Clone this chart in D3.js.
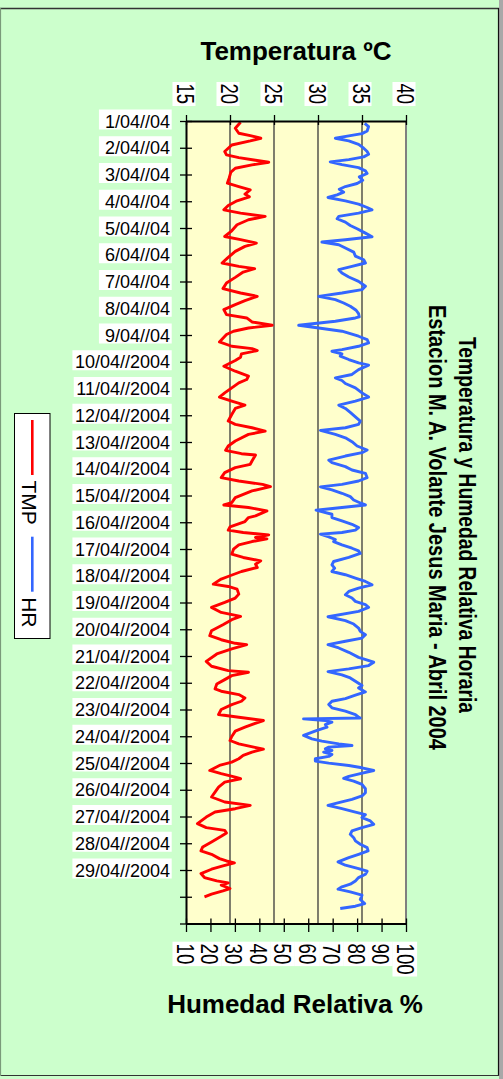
<!DOCTYPE html>
<html><head><meta charset="utf-8">
<script src="https://cdn.jsdelivr.net/npm/d3@7"></script>
<style>html,body{margin:0;padding:0;background:#CCFFCC;} svg{display:block;font-family:"Liberation Sans",Arial,sans-serif;}</style>
</head><body><svg id="c" width="503" height="1079"></svg>
<script>
const dateLabels = ["1/04//04","2/04//04","3/04//04","4/04//04","5/04//04","6/04//04","7/04//04","8/04//04","9/04//04",
  "10/04//2004","11/04//2004","12/04//2004","13/04//2004","14/04//2004","15/04//2004","16/04//2004","17/04//2004",
  "18/04//2004","19/04//2004","20/04//2004","21/04//2004","22/04//2004","23/04//2004","24/04//2004","25/04//2004",
  "26/04//2004","27/04//2004","28/04//2004","29/04//2004","",""];
const tempTicks = [15,20,25,30,35,40];
const hrTicks = [10,20,30,40,50,60,70,80,90,100];
const seriesNames = ["TMP","HR"];
const titleLines = ["Temperatura y Humedad Relativa Horaria","Estacion M. A. Volante Jesus Maria - Abril 2004"];

// [hours since 1/04 00:00, temperature ºC]
const tmpPoints = [
[1.2,21.2],[6.5,20.6],[11.0,21.0],[13.1,22.3],[15.5,23.5],[17.9,22.3],[21.5,20.2],
[27.4,19.4],[30.4,19.6],[32.8,21.0],[35.2,22.9],[37.0,24.4],[39.4,22.5],[42.4,20.6],[45.9,20.1],
[51.3,19.9],[55.8,19.7],[58.8,21.0],[61.8,22.3],[65.6,21.7],[68.0,22.2],[71.6,20.8],
[75.8,19.8],[79.7,19.3],[82.7,21.2],[85.6,24.0],[88.6,22.1],[93.1,20.8],
[98.5,20.2],[103.6,19.4],[106.5,21.2],[109.5,23.0],[112.5,21.7],[117.0,20.6],
[123.0,19.7],[127.4,19.1],[130.4,21.0],[132.5,22.8],[135.5,21.5],[140.3,20.6],
[145.3,19.6],[150.4,19.2],[154.3,21.2],[157.3,23.1],[161.2,21.7],[164.7,20.6],
[169.2,19.3],[173.7,19.6],[176.7,21.9],[180.3,22.5],[183.3,24.8],[185.7,22.1],[188.6,20.4],
[191.6,19.6],[198.2,18.8],[202.1,20.2],[204.2,22.5],[206.0,23.1],[209.0,21.3],[211.9,21.2],
[214.9,20.6],[220.0,19.3],[224.5,20.6],[228.9,22.1],[231.9,21.9],[234.9,21.0],[239.4,20.2],
[243.9,19.4],[247.7,18.8],[251.3,20.2],[254.9,21.7],[257.9,20.6],[263.3,20.2],[269.2,19.8],
[272.2,20.6],[275.2,22.5],[278.2,24.0],[281.2,22.1],[287.1,20.6],[291.6,19.8],[295.5,19.5],
[298.5,21.3],[299.7,22.9],[305.1,22.5],[308.0,22.3],[311.0,20.6],[315.5,19.4],[320.0,19.0],
[323.0,21.0],[326.0,23.7],[328.0,24.6],[331.9,22.5],[337.9,20.6],[342.4,20.2],[344.5,19.3],
[346.8,22.1],[349.8,24.2],[354.3,22.9],[355.8,22.1],[359.4,21.7],[364.2,20.0],[367.1,19.8],
[369.2,21.5],[371.3,24.4],[373.7,22.9],[374.9,24.2],[377.3,22.5],[380.3,21.0],[384.2,20.4],
[388.6,20.2],[391.6,21.5],[394.6,23.5],[397.6,22.9],[400.6,23.1],[404.2,21.3],[408.0,20.0],
[411.0,19.0],[415.5,18.1],[417.6,19.8],[420.0,20.8],[424.5,21.0],[428.0,20.6],[431.9,19.4],
[436.4,17.9],[440.9,19.0],[444.5,21.2],[447.4,20.2],[451.9,19.2],[457.3,17.9],[461.8,17.7],
[465.4,19.0],[468.6,20.6],[469.8,21.9],[473.7,20.2],[478.2,18.5],[484.8,17.3],[489.2,17.9],
[493.1,19.8],[494.6,22.1],[497.6,20.2],[501.2,19.4],[505.1,18.5],[509.5,18.3],[511.6,19.0],
[514.6,21.0],[517.6,21.7],[520.6,21.3],[523.6,20.2],[528.0,19.0],[532.5,18.7],[534.9,21.0],
[537.9,23.8],[540.9,22.7],[543.9,21.7],[547.4,20.6],[552.2,20.2],[555.8,20.0],[558.8,21.0],
[561.8,22.7],[563.6,23.8],[566.2,22.5],[569.2,21.5],[572.2,21.0],[575.2,20.2],[578.2,18.8],
[582.7,17.7],[585.6,19.0],[588.6,20.6],[590.1,21.2],[593.1,19.4],[597.6,18.7],[602.1,18.3],
[606.5,17.9],[611.0,19.4],[614.0,22.3],[617.0,20.6],[620.0,18.3],[624.5,17.3],[630.4,16.3],
[634.0,17.3],[636.4,19.4],[638.8,19.6],[641.8,19.0],[646.8,17.9],[651.3,16.9],[654.9,16.7],
[657.9,17.9],[661.8,18.8],[663.9,19.6],[665.6,20.5],[668.3,19.2],[671.3,17.9],[675.2,16.7],
[678.8,17.1],[681.8,18.5],[683.6,19.8],[685.6,19.0],[688.6,20.0],[690.7,19.2],[693.7,17.9],
[696.1,17.1]
];

// [hours since 1/04 00:00, relative humidity %]
const hrPoints = [
[2.1,83.1],[5.0,84.7],[8.9,84.1],[11.3,82.0],[13.4,76.6],[15.5,71.1],[17.9,76.6],[20.9,80.6],
[24.4,82.7],[27.4,84.1],[29.8,84.7],[32.2,82.7],[34.6,76.6],[36.7,69.0],[39.1,73.8],[41.8,80.6],
[44.7,83.4],[47.1,84.1],[50.1,80.9],[53.1,82.3],[56.1,80.0],[58.8,75.2],[61.2,72.7],[63.8,74.5],
[66.2,71.8],[68.6,68.1],[71.6,75.2],[74.6,80.6],[77.6,84.1],[79.7,86.1],[82.7,80.6],[85.6,72.5],
[87.7,71.8],[90.7,75.2],[93.7,77.2],[96.7,80.0],[100.6,83.4],[103.9,86.1],[106.5,75.2],[108.6,65.6],
[111.0,72.5],[114.0,75.2],[117.6,78.6],[121.2,79.3],[124.5,82.7],[127.4,83.4],[130.4,77.9],[133.4,72.5],
[136.4,73.8],[140.0,76.6],[143.9,80.6],[148.3,83.4],[151.3,82.0],[154.3,73.8],[157.3,64.3],[160.3,71.1],
[163.3,74.5],[166.2,77.2],[169.8,79.6],[172.8,80.6],[175.8,80.9],[176.7,79.3],[179.7,71.1],[183.3,56.1],
[185.7,64.3],[188.6,73.8],[193.1,80.6],[196.1,84.1],[199.1,84.7],[202.1,80.6],[205.1,73.8],[206.6,69.7],
[209.0,73.8],[211.0,73.1],[214.0,76.6],[217.0,80.6],[219.1,84.7],[223.0,80.6],[227.4,77.9],[230.4,71.1],
[232.8,73.8],[235.5,75.2],[239.4,79.3],[243.9,82.0],[247.7,84.7],[251.3,79.3],[254.9,72.5],[257.9,75.2],
[261.5,77.2],[265.4,79.3],[269.2,81.3],[272.2,80.6],[275.2,75.2],[277.6,65.0],[281.2,71.1],[284.2,75.2],
[287.7,77.9],[291.6,80.0],[295.2,84.1],[297.6,82.0],[300.6,75.2],[304.2,68.4],[306.5,69.7],[310.1,75.2],
[313.1,77.9],[316.1,83.4],[320.0,84.1],[323.0,80.6],[326.0,73.8],[328.3,65.0],[331.0,69.7],[334.0,73.8],
[337.0,77.2],[340.0,78.6],[342.7,81.3],[344.5,83.4],[346.8,73.8],[349.2,63.2],[352.8,69.7],[355.8,69.7],
[358.8,73.8],[361.8,77.9],[364.8,80.6],[367.1,79.3],[369.2,73.8],[370.7,65.0],[373.1,68.4],[375.5,71.1],
[377.3,70.4],[380.3,73.8],[383.3,77.9],[385.7,80.6],[388.0,81.3],[391.6,76.6],[395.2,70.4],[398.2,69.7],
[401.2,70.8],[404.2,69.7],[407.1,75.2],[410.1,79.3],[413.1,83.4],[416.1,86.1],[419.1,80.6],[422.1,76.6],
[425.1,75.2],[428.0,77.9],[431.0,79.3],[434.0,83.4],[436.4,84.7],[440.0,80.6],[444.8,68.1],[448.3,75.2],
[451.3,78.6],[454.9,80.6],[457.9,81.3],[460.9,83.4],[463.9,82.0],[466.8,75.2],[469.8,68.1],[472.8,72.5],
[476.7,76.6],[481.2,80.6],[485.6,86.8],[488.6,84.7],[491.6,76.6],[494.0,68.1],[497.0,73.8],[499.7,77.2],
[502.7,79.3],[506.5,82.0],[508.6,80.6],[512.2,83.4],[515.2,79.3],[518.2,75.2],[520.6,69.7],[523.6,68.4],
[526.5,69.7],[529.5,75.2],[532.5,79.3],[534.9,80.6],[535.6,81.3],[536.4,58.1],[537.9,67.0],[539.4,69.7],
[541.5,67.0],[543.9,67.7],[546.8,63.6],[551.3,58.1],[554.3,61.5],[556.4,65.6],[558.8,72.5],[560.3,77.9],
[561.8,68.4],[563.3,67.0],[564.8,69.7],[566.2,66.3],[568.3,69.7],[570.1,68.4],[572.2,62.9],[574.3,62.9],
[576.1,68.4],[578.2,76.6],[580.3,82.0],[582.7,86.8],[585.6,81.3],[588.0,76.6],[589.8,74.5],[592.2,78.6],
[595.2,82.0],[599.1,83.4],[602.7,83.4],[605.6,82.0],[608.6,77.9],[611.6,72.5],[614.0,68.1],[617.0,73.8],
[620.0,79.3],[622.4,83.4],[625.0,82.0],[628.0,85.4],[631.0,86.8],[634.0,82.0],[637.0,77.9],[640.0,77.2],
[643.0,78.6],[645.9,79.3],[648.9,81.3],[651.9,84.1],[654.9,84.5],[657.9,80.6],[660.9,76.6],[664.7,72.2],
[667.7,75.2],[670.7,80.6],[673.1,84.1],[675.8,83.4],[678.8,80.6],[681.8,79.3],[684.7,77.2],[687.1,73.8],
[689.2,72.2],[691.6,77.2],[694.6,82.0],[698.5,81.3],[702.1,83.1],[704.5,79.3],[706.5,73.1]
];

const W = 503, H = 1079;
const svg = d3.select("#c");
svg.append("rect").attr("width", W).attr("height", H).attr("fill", "#CCFFCC");
svg.append("rect").attr("x", 499).attr("y", 0).attr("width", 4).attr("height", H).attr("fill", "#A8A8A8");
// chart border
svg.append("line").attr("x1", 0).attr("x2", 499).attr("y1", 8.5).attr("y2", 8.5).attr("stroke", "#333").attr("stroke-width", 1.6);
svg.append("line").attr("x1", 498.5).attr("x2", 498.5).attr("y1", 8).attr("y2", 1076).attr("stroke", "#111").attr("stroke-width", 1.2);
svg.append("line").attr("x1", 0).attr("x2", 499).attr("y1", 1075.5).attr("y2", 1075.5).attr("stroke", "#333").attr("stroke-width", 1.2);
svg.append("line").attr("x1", 0.5).attr("x2", 0.5).attr("y1", 8).attr("y2", 1076).attr("stroke", "#7a9a7a").attr("stroke-width", 1.2);

const L = 186, R = 406, T0 = 121, B = 923.5;
const y = d3.scaleLinear().domain([0, 720]).range([T0, B]);
const xT = d3.scaleLinear().domain([15, 40]).range([L, R]);
const xH = d3.scaleLinear().domain([10, 100]).range([L, R]);

svg.append("rect").attr("x", L).attr("y", T0).attr("width", R - L).attr("height", B - T0).attr("fill", "#FFFFCC");
svg.append("g").selectAll("line").data(tempTicks.slice(1, -1)).join("line")
  .attr("x1", d => xT(d)).attr("x2", d => xT(d)).attr("y1", T0).attr("y2", B)
  .attr("stroke", "#3a3a3a").attr("stroke-width", 1.3);
svg.append("line").attr("x1", R).attr("x2", R).attr("y1", T0).attr("y2", B).attr("stroke", "#808080").attr("stroke-width", 2);

// data lines
svg.append("path").datum(tmpPoints)
  .attr("d", d3.line().x(d => xT(d[1])).y(d => y(d[0])))
  .attr("fill", "none").attr("stroke", "#FF0000").attr("stroke-width", 2.9).attr("stroke-linejoin", "round");
svg.append("path").datum(hrPoints)
  .attr("d", d3.line().x(d => xH(d[1])).y(d => y(d[0])))
  .attr("fill", "none").attr("stroke", "#3366FF").attr("stroke-width", 2.9).attr("stroke-linejoin", "round");

// left (date) axis
const dayTicks = dateLabels.map((_, i) => i * 24);
const gl = svg.append("g").attr("transform", `translate(${L},0)`)
  .call(d3.axisLeft(y).tickValues(dayTicks).tickSize(6).tickSizeOuter(0).tickFormat(""));
gl.select(".domain").attr("stroke", "#000").attr("stroke-width", 2);
gl.selectAll(".tick line").attr("x1", 6).attr("x2", -6).attr("stroke", "#000").attr("stroke-width", 1.3);
const dl = svg.append("g");
dateLabels.forEach((lab, i) => {
  if (!lab) return;
  const yy = y(dayTicks[i]);
  const r = dl.append("rect").attr("fill", "#fff");
  const t = dl.append("text").attr("x", 170).attr("y", yy + 6.5).attr("text-anchor", "end")
    .attr("font-size", 18).attr("fill", "#000").text(lab);
  const w = t.node().getComputedTextLength();
  r.attr("x", 170 - w - (lab.length < 10 ? 6 : 2.5)).attr("y", yy - 11.5).attr("width", w + (lab.length < 10 ? 7.7 : 4.2)).attr("height", 20);
});

// top (temperature) axis
const gt = svg.append("g").attr("transform", `translate(0,${T0})`)
  .call(d3.axisTop(xT).tickValues(tempTicks).tickSize(6).tickSizeOuter(0).tickFormat(""));
gt.select(".domain").attr("stroke", "#000").attr("stroke-width", 2);
gt.selectAll(".tick line").attr("y1", 4).attr("y2", -6).attr("stroke", "#000").attr("stroke-width", 1.3);
const tl = svg.append("g");
tempTicks.forEach(v => {
  const xx = xT(v);
  tl.append("rect").attr("x", xx - 13.5).attr("y", 82).attr("width", 23).attr("height", 24).attr("fill", "#fff");
  tl.append("text").attr("transform", `translate(${xx - 9.5},93.8) rotate(90)`)
    .attr("text-anchor", "middle").attr("font-size", 23)
    .attr("textLength", String(v).length * 10.3).attr("lengthAdjust", "spacingAndGlyphs").text(v);
});

// bottom (humidity) axis
const gb = svg.append("g").attr("transform", `translate(0,${B})`)
  .call(d3.axisBottom(xH).tickValues(hrTicks).tickSize(8.5).tickSizeOuter(0).tickFormat(""));
gb.select(".domain").attr("stroke", "#000").attr("stroke-width", 2);
gb.selectAll(".tick line").attr("y1", -5).attr("y2", 8.5).attr("stroke", "#000").attr("stroke-width", 1.3);
const bl = svg.append("g");
hrTicks.forEach(v => {
  const xx = xH(v), len = String(v).length * 10.4;
  bl.append("rect").attr("x", xx - 13.5).attr("y", 941.7).attr("width", 24.6).attr("height", len + 3.6).attr("fill", "#fff");
});
hrTicks.forEach(v => {
  const xx = xH(v), len = String(v).length * 10.4;
  bl.append("text").attr("transform", `translate(${xx - 9.5},943.5) rotate(90)`)
    .attr("text-anchor", "start").attr("font-size", 23)
    .attr("textLength", len).attr("lengthAdjust", "spacingAndGlyphs").text(v);
});

// axis titles
svg.append("text").attr("x", 296).attr("y", 60).attr("text-anchor", "middle")
  .attr("font-size", 26).attr("font-weight", "bold").text("Temperatura ºC");
svg.append("text").attr("x", 295).attr("y", 1012.7).attr("text-anchor", "middle")
  .attr("font-size", 26).attr("font-weight", "bold").text("Humedad Relativa %");

// chart title (rotated)
svg.append("text").attr("transform", "translate(459,525) rotate(90)").attr("text-anchor", "middle")
  .attr("font-size", 23).attr("font-weight", "bold")
  .attr("textLength", 376).attr("lengthAdjust", "spacingAndGlyphs").text(titleLines[0]);
svg.append("text").attr("transform", "translate(429,527.5) rotate(90)").attr("text-anchor", "middle")
  .attr("font-size", 23).attr("font-weight", "bold")
  .attr("textLength", 445).attr("lengthAdjust", "spacingAndGlyphs").text(titleLines[1]);

// legend
const lg = svg.append("g");
lg.append("rect").attr("x", 14.5).attr("y", 413.5).attr("width", 35.5).attr("height", 225)
  .attr("fill", "#fff").attr("stroke", "#000").attr("stroke-width", 1);
const legColors = ["#FF0000", "#3366FF"];
const legY = [420, 536.7];
seriesNames.forEach((n, i) => {
  lg.append("line").attr("x1", 32.3).attr("x2", 32.3).attr("y1", legY[i]).attr("y2", legY[i] + 55)
    .attr("stroke", legColors[i]).attr("stroke-width", 2.6);
  lg.append("text").attr("transform", `translate(21.7,${legY[i] + 60.5}) rotate(90)`)
    .attr("font-size", 21).text(n);
});
</script></body></html>
